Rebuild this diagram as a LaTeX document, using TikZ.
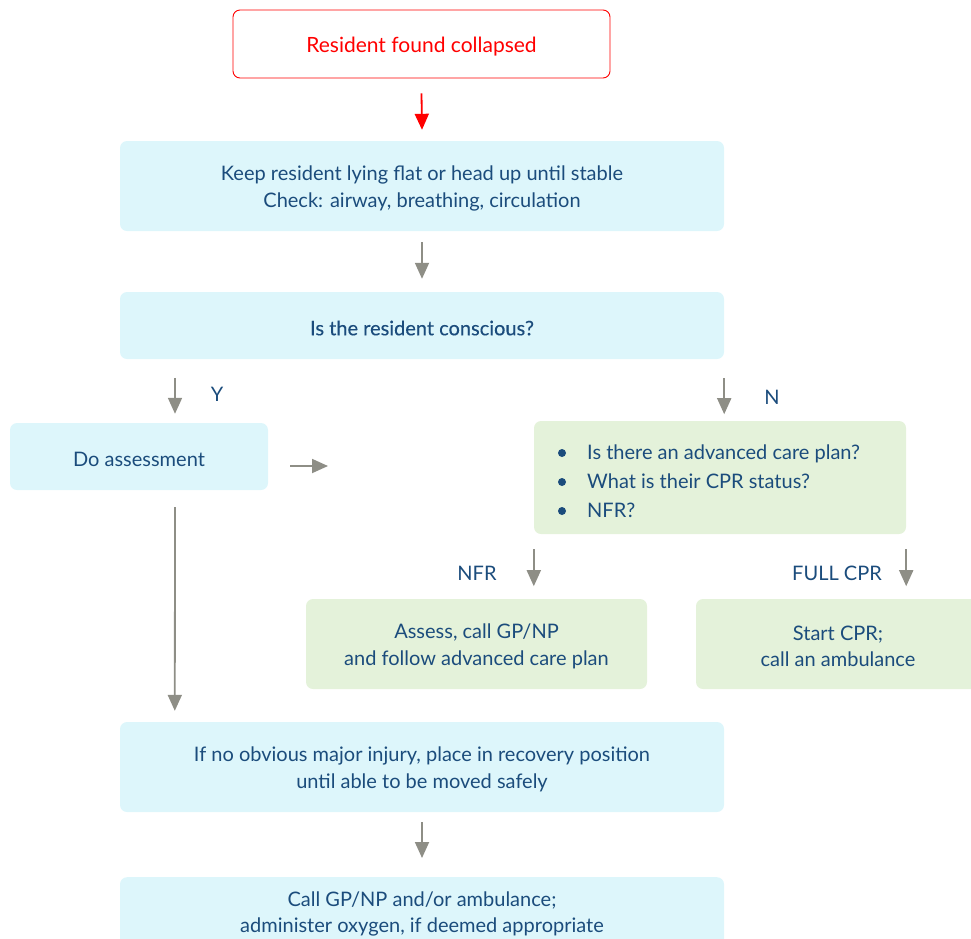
\documentclass[tikz,border=0pt]{standalone}
\usepackage{fontspec}
\setmainfont{Lato}
\usetikzlibrary{arrows.meta,calc}
\definecolor{txtblue}{HTML}{1B4C7C}
\definecolor{cyanfill}{HTML}{DDF6FB}
\definecolor{greenfill}{HTML}{E4F2DA}
\definecolor{arrgray}{HTML}{8E8E86}
\definecolor{alarm}{HTML}{FF0000}
\newcommand{\lowr}[1]{\raisebox{-2.5pt}[\height][\depth]{#1}}
\tikzset{
  x=1pt,y=1pt,
  base/.style={rounded corners=7pt, align=center, inner sep=0pt, font=\fontsize{20}{26.5}\selectfont, text=txtblue},
  cyanbox/.style={base, fill=cyanfill},
  greenbox/.style={base, fill=greenfill},
  redbox/.style={base, draw=alarm, line width=0.9pt, fill=white, text=alarm, font=\fontsize{21}{27}\selectfont},
  arr/.style={draw=arrgray, line width=1.8pt, -{Triangle[width=14pt,length=16pt]}},
  redarr/.style={draw=alarm, line width=1.8pt, -{Triangle[width=14pt,length=16pt]}},
  lbl/.style={font=\fontsize{20}{24}\selectfont, text=txtblue, inner sep=0pt}
}
\begin{document}
\begin{tikzpicture}
\useasboundingbox (0,0) rectangle (971,-938);
\clip (0,0) rectangle (971,-938);
\node[redbox, minimum width=377, minimum height=68] (b1) at (421.5,-44) {\lowr{Resident found collapsed}};
\node[cyanbox, minimum width=604, minimum height=90] (b2) at (422,-186) {\lowr{\parbox{600pt}{\centering Keep resident lying flat or head up until stable\\Check: airway, breathing, circulation}}};
\node[cyanbox, minimum width=604, minimum height=67] (b3) at (422,-325.5) {\lowr{\addfontfeature{FakeBold=0.3}Is the resident conscious?}};
\node[cyanbox, minimum width=258, minimum height=67] (b4) at (139,-456.5) {\lowr{Do assessment}};
\node[greenbox, minimum width=372, minimum height=113] (b5) at (720,-477.5) {};
\node[lbl, anchor=base west] (q1) at (587,-459) {Is there an advanced care plan?};
\node[lbl, anchor=base west] (q2) at (587,-488) {What is their CPR status?};
\node[lbl, anchor=base west] (q3) at (587,-517) {NFR?};
\foreach \q in {q1,q2,q3} \fill[txtblue] ($(\q.base west)+(-25,6)$) circle (4pt);
\node[greenbox, minimum width=341, minimum height=90] (b6) at (476.5,-644) {\lowr{\parbox{340pt}{\centering Assess, call GP/NP\\and follow advanced care plan}}};
\node[greenbox, minimum width=284, minimum height=90] (b7) at (838,-644) {\lowr{\parbox{280pt}{\centering Start CPR;\\call an ambulance}}};
\node[cyanbox, minimum width=604, minimum height=90] (b8) at (422,-767) {\lowr{\parbox{600pt}{\centering If no obvious major injury, place in recovery position\\until able to be moved safely}}};
\node[cyanbox, minimum width=604, minimum height=90, anchor=north] (b9) at (422,-877) {};
\node[base] (t9) at (422,-914) {Call GP/NP and/or ambulance;\\administer oxygen, if deemed appropriate};
% labels
\node[lbl] (ly) at (217,-394.5) {Y};
\node[lbl] (ln) at (772,-397.5) {N};
\node[lbl] (lnfr) at (477,-573.5) {NFR};
\node[lbl] (lfull) at (837,-573.5) {FULL CPR};
% arrows
\draw[redarr] ([yshift=-15]b1.south) -- ([yshift=11]b2.north);
\draw[arr] ([yshift=-11]b2.south) -- ([yshift=13]b3.north);
\draw[arr] ($(b4.north)+(36,45)$) -- ($(b4.north)+(36,9)$);
\draw[arr] ($(b3.south east)+(0,-19)$) -- ($(b3.south east)+(0,-55)$);
\coordinate (hend) at (328,-466);
\draw[arr] ($(b4.east)+(22,-9.5)$) -- (hend);
\draw[arr] ($(b5.south west)+(0,-15)$) -- ($(b5.south west)+(0,-52)$);
\draw[arr] ($(b5.south east)+(0,-15)$) -- ($(b5.south east)+(0,-52)$);
\draw[arr] ($(b4.south)+(36,-17)$) -- ($(b8.north west)+(55,11)$);
\draw[arr] ([yshift=-10]b8.south) -- ([yshift=19]b9.north);
\end{tikzpicture}
\end{document}
